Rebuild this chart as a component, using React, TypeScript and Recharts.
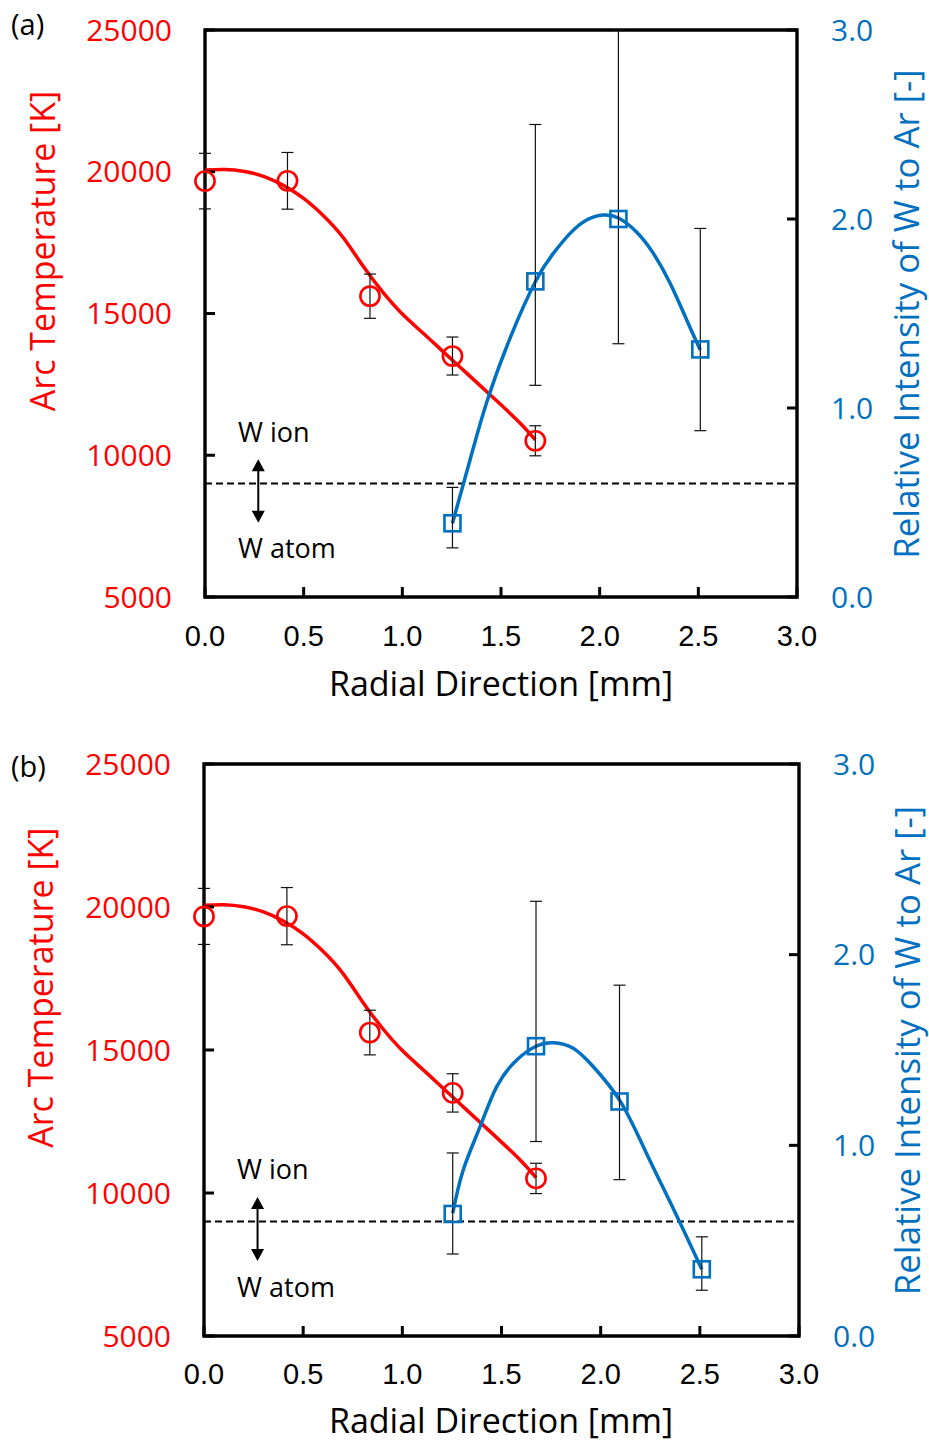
import React from 'react';
import {
  ComposedChart,
  XAxis,
  YAxis,
  Line,
  Scatter,
  ErrorBar,
  ReferenceLine,
  ReferenceArea,
  ReferenceDot,
} from 'recharts';

const RED = '#FF0000';
const BLUE = '#0070C0';
const FONT = '"Open Sans", "Noto Sans", sans-serif';
const TICKFONT = '"Liberation Sans", Arial, sans-serif';

// ---- axis ticks ----
const xTicks = [0, 0.5, 1.0, 1.5, 2.0, 2.5, 3.0];
const tempTicks = [5000, 10000, 15000, 20000, 25000];
const intTicks = [0, 1, 2, 3];

// ---- arc temperature (same in both panels) ----
const tempX = [0, 0.418, 0.836, 1.254, 1.674];
const tempK = [19670, 19680, 15610, 13500, 10510];
const tempErr = [980, 1000, 780, 670, 530];

// fitted temperature curve
const tempCurveX = [0, 0.1, 0.2, 0.3, 0.4, 0.5, 0.6, 0.7, 0.8, 0.9, 1.0, 1.1, 1.2, 1.3, 1.4, 1.5, 1.6, 1.674];
const tempCurveK = [20060, 20080, 20010, 19830, 19510, 19060, 18450, 17680, 16680, 15760, 14980, 14340, 13700, 13060, 12420, 11780, 11110, 10540];

// ---- relative intensity W / Ar ----
const intX = [1.254, 1.674, 2.095, 2.51];
// panel (a)
const intA = [0.39, 1.67, 2.0, 1.31];
const intAErrLow = [0.13, 0.55, 0.66, 0.43];
const intAErrHigh = [0.19, 0.83, 1.0, 0.64];
const intACurveX = [1.254, 1.343, 1.428, 1.546, 1.676, 1.765, 1.85, 1.934, 2.018, 2.095, 2.188, 2.272, 2.357, 2.441, 2.51];
const intACurveY = [0.39, 0.725, 1.032, 1.37, 1.672, 1.818, 1.924, 1.995, 2.021, 2.005, 1.93, 1.818, 1.66, 1.466, 1.307];
// panel (b)
const intB = [0.64, 1.52, 1.23, 0.35];
const intBErrLow = [0.21, 0.5, 0.41, 0.11];
const intBErrHigh = [0.32, 0.76, 0.61, 0.17];
const intBCurveX = [1.254, 1.307, 1.392, 1.476, 1.577, 1.677, 1.761, 1.862, 1.963, 2.1, 2.23, 2.37, 2.51];
const intBCurveY = [0.644, 0.871, 1.098, 1.308, 1.448, 1.521, 1.538, 1.509, 1.412, 1.229, 0.96, 0.66, 0.35];

// ---- annotation ----
const ionThreshold = 9000;
const arrowX = 0.27;
const arrowTopK = 9860;
const arrowBottomK = 7620;
const ionText = { x: 0.167, T: 10480, text: 'W ion' };
const atomText = { x: 0.167, T: 6380, text: 'W atom' };

const redPoints = tempX.map((x, i) => ({ x, T: tempK[i], err: tempErr[i] }));
const redCurve = tempCurveX.map((x, i) => ({ x, T: tempCurveK[i] }));
const bluePointsA = intX.map((x, i) => ({ x, R: intA[i], err: [intAErrLow[i], intAErrHigh[i]] }));
const bluePointsB = intX.map((x, i) => ({ x, R: intB[i], err: [intBErrLow[i], intBErrHigh[i]] }));
const blueCurveA = intACurveX.map((x, i) => ({ x, R: intACurveY[i] }));
const blueCurveB = intBCurveX.map((x, i) => ({ x, R: intBCurveY[i] }));

const circleShape = (p: any) => (
  <circle cx={p.cx} cy={p.cy} r={9.6} fill="none" stroke={RED} strokeWidth={2.6} />
);
const squareShape = (p: any) => (
  <rect x={p.cx - 8} y={p.cy - 8} width={16} height={16} fill="none" stroke={BLUE} strokeWidth={2.6} />
);

const ArrowShape = (p: any) => {
  const x = p.x1;
  const yTop = Math.min(p.y1, p.y2);
  const yBot = Math.max(p.y1, p.y2);
  const hl = 12;
  const hw = 6.5;
  return (
    <g>
      <line x1={x} y1={yTop + hl - 1} x2={x} y2={yBot - hl + 1} stroke="#000" strokeWidth={2} />
      <polygon points={`${x},${yTop} ${x - hw},${yTop + hl} ${x + hw},${yTop + hl}`} fill="#000" />
      <polygon points={`${x},${yBot} ${x - hw},${yBot - hl} ${x + hw},${yBot - hl}`} fill="#000" />
    </g>
  );
};

const textShape = (label: string) => (p: any) => (
  <text x={p.cx} y={p.cy} fontSize={27} fontFamily={FONT} fill="#000" textAnchor="start">
    {label}
  </text>
);

type PanelProps = {
  tag: string;
  height: number;
  leftW: number;
  rightW: number;
  xAxisH: number;
  xTickMargin: number;
  bluePts: any[];
  blueCurve: any[];
  tagBaseline: number;
  leftTitle: { x: number; y: number };
  rightTitle: { x: number; y: number };
  xTitle: { x: number; y: number };
};

function Panel(props: PanelProps) {
  const { tag, height, leftW, rightW, xAxisH, xTickMargin, bluePts, blueCurve, tagBaseline, leftTitle, rightTitle, xTitle } = props;

  const leftLabel = () => (
    <g>
      <text x={11} y={tagBaseline} fontSize={29} fontFamily={FONT} fill="#000">
        {tag}
      </text>
      <text
        x={leftTitle.x}
        y={leftTitle.y}
        transform={`rotate(-90 ${leftTitle.x} ${leftTitle.y})`}
        textAnchor="middle"
        fontSize={34}
        fontFamily={FONT}
        fill={RED}
      >
        Arc Temperature [K]
      </text>
    </g>
  );
  const rightLabel = () => (
    <text
      x={rightTitle.x}
      y={rightTitle.y}
      transform={`rotate(-90 ${rightTitle.x} ${rightTitle.y})`}
      textAnchor="middle"
      fontSize={34.8}
      fontFamily={FONT}
      fill={BLUE}
    >
      Relative Intensity of W to Ar [-]
    </text>
  );
  const bottomLabel = () => (
    <text x={xTitle.x} y={xTitle.y} textAnchor="middle" fontSize={34} fontFamily={FONT} fill="#000">
      Radial Direction [mm]
    </text>
  );

  return (
    <ComposedChart
      width={929}
      height={height}
      margin={{ top: 29, right: 0, bottom: 0, left: 0 }}
      style={{ fontFamily: FONT }}
    >
      <XAxis
        dataKey="x"
        type="number"
        domain={[0, 3]}
        ticks={xTicks}
        interval={0}
        height={xAxisH}
        axisLine={false}
        stroke="#000"
        tickLine={{ stroke: '#000', strokeWidth: 3 }}
        tickSize={-10}
        tickMargin={xTickMargin}
        tick={{ fill: '#000', fontSize: 29, fontFamily: TICKFONT }}
        tickFormatter={(v: number) => v.toFixed(1)}
        label={bottomLabel}
      />
      <XAxis
        xAxisId="top"
        orientation="top"
        dataKey="x"
        type="number"
        domain={[0, 3]}
        ticks={xTicks}
        interval={0}
        height={1}
        axisLine={false}
        stroke="#000"
        tickLine={{ stroke: '#000', strokeWidth: 3 }}
        tickSize={-10}
        tick={false}
      />
      <YAxis
        yAxisId="T"
        orientation="left"
        type="number"
        domain={[5000, 25000]}
        ticks={tempTicks}
        interval={0}
        width={leftW}
        axisLine={false}
        stroke="#000"
        tickLine={{ stroke: '#000', strokeWidth: 3 }}
        tickSize={-10}
        tickMargin={43}
        tick={{ fill: RED, fontSize: 30, fontFamily: FONT }}
        label={leftLabel}
      />
      <YAxis
        yAxisId="R"
        orientation="right"
        type="number"
        domain={[0, 3]}
        ticks={intTicks}
        interval={0}
        allowDataOverflow
        width={rightW}
        axisLine={false}
        stroke="#000"
        tickLine={{ stroke: '#000', strokeWidth: 3 }}
        tickSize={-10}
        tickMargin={44}
        tick={{ fill: BLUE, fontSize: 30, fontFamily: FONT }}
        tickFormatter={(v: number) => v.toFixed(1)}
        label={rightLabel}
      />

      <ReferenceArea
        yAxisId="T"
        x1={0}
        x2={3}
        y1={5000}
        y2={25000}
        fill="none"
        fillOpacity={0}
        stroke="#000"
        strokeWidth={3.4}
        ifOverflow="visible"
      />
      <ReferenceLine yAxisId="T" y={ionThreshold} stroke="#000" strokeWidth={2} strokeDasharray="7 4" />
      <ReferenceLine
        yAxisId="T"
        segment={[
          { x: arrowX, y: arrowTopK },
          { x: arrowX, y: arrowBottomK },
        ]}
        shape={ArrowShape}
      />
      <ReferenceDot yAxisId="T" x={ionText.x} y={ionText.T} r={0} shape={textShape(ionText.text)} />
      <ReferenceDot yAxisId="T" x={atomText.x} y={atomText.T} r={0} shape={textShape(atomText.text)} />

      <Line
        yAxisId="T"
        data={redCurve}
        dataKey="T"
        type="natural"
        stroke={RED}
        strokeWidth={3.5}
        dot={false}
        activeDot={false}
        isAnimationActive={false}
      />
      <Scatter yAxisId="T" data={redPoints} dataKey="T" shape={circleShape} isAnimationActive={false}>
        <ErrorBar dataKey="err" direction="y" width={6} stroke="#111" strokeWidth={1.2} isAnimationActive={false} />
      </Scatter>

      <Line
        yAxisId="R"
        data={blueCurve}
        dataKey="R"
        type="natural"
        stroke={BLUE}
        strokeWidth={3.5}
        dot={false}
        activeDot={false}
        isAnimationActive={false}
      />
      <Scatter yAxisId="R" data={bluePts} dataKey="R" shape={squareShape} isAnimationActive={false}>
        <ErrorBar dataKey="err" direction="y" width={6} stroke="#111" strokeWidth={1.2} isAnimationActive={false} />
      </Scatter>
    </ComposedChart>
  );
}

export default function App() {
  return (
    <div style={{ position: 'absolute', left: 0, top: 0, width: 929, height: 1443, background: '#fff' }}>
      <div style={{ position: 'absolute', left: 0, top: 0 }}>
        <Panel
          tag="(a)"
          height={720}
          leftW={205}
          rightW={132}
          xAxisH={123}
          xTickMargin={38}
          bluePts={bluePointsA}
          blueCurve={blueCurveA}
          tagBaseline={35}
          leftTitle={{ x: 55, y: 251 }}
          rightTitle={{ x: 919, y: 314 }}
          xTitle={{ x: 501, y: 696 }}
        />
      </div>
      <div style={{ position: 'absolute', left: 0, top: 734 }}>
        <Panel
          tag="(b)"
          height={709}
          leftW={204}
          rightW={130}
          xAxisH={107}
          xTickMargin={37}
          bluePts={bluePointsB}
          blueCurve={blueCurveB}
          tagBaseline={42.7}
          leftTitle={{ x: 53.5, y: 253.7 }}
          rightTitle={{ x: 919.5, y: 316.5 }}
          xTitle={{ x: 501, y: 699 }}
        />
      </div>
    </div>
  );
}
